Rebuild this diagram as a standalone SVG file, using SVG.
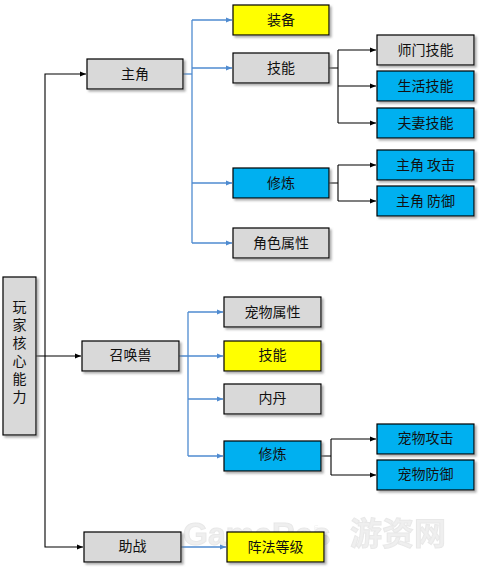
<svg xmlns="http://www.w3.org/2000/svg" width="482" height="567" viewBox="0 0 482 567">
<style>
.n rect{stroke:#000;stroke-width:1.2}
.g{fill:#d9d9d9}.y{fill:#ffff00}.b{fill:#00b0f0}
.n text{font-family:"Noto Sans CJK SC","Noto Sans",sans-serif;font-size:14px;fill:#111;text-anchor:middle;dominant-baseline:central}
.n text.v{writing-mode:vertical-rl;text-anchor:start;letter-spacing:4px;dominant-baseline:central}
.k{fill:none;stroke:#000;stroke-width:1.1}
.bl{fill:none;stroke:#4f8bd0;stroke-width:1.3}
.wm{font-family:"Liberation Sans","Noto Sans CJK SC",sans-serif;font-weight:bold;font-size:32px}
</style>
<defs>
<filter id="sh" x="-10%" y="-10%" width="130%" height="140%">
<feDropShadow dx="2" dy="2" stdDeviation="1" flood-color="#777" flood-opacity="0.6"/>
</filter>
<marker id="ak" viewBox="0 0 6 6" refX="6" refY="3" markerWidth="6" markerHeight="6" markerUnits="userSpaceOnUse" orient="auto"><path d="M0,0.5 L6,3 L0,5.5 z" fill="#000"/></marker>
<marker id="ab" viewBox="0 0 6 6" refX="6" refY="3" markerWidth="6" markerHeight="6" markerUnits="userSpaceOnUse" orient="auto"><path d="M0,0.5 L6,3 L0,5.5 z" fill="#4f8bd0"/></marker>
</defs>
<rect width="482" height="567" fill="#fff"/>
<g id="watermark" opacity="0.9">
<text class="wm" x="183" y="545" fill="#eee" stroke="#e6e6e6" stroke-width="1">GameRes</text>
<text x="318" y="540" font-family="Liberation Sans,sans-serif" font-size="7" fill="#eee" transform="rotate(-90 318 540)">.com</text>
<text class="wm" x="350" y="545" fill="#eee" stroke="#e6e6e6" stroke-width="1" font-family="Noto Sans CJK SC,sans-serif">游资网</text>
</g>
<g id="connectors">
<path class="k" d="M36,356 H81" marker-end="url(#ak)"/>
<path class="k" d="M45,356 V74 H86" marker-end="url(#ak)"/>
<path class="k" d="M45,356 V547 H83" marker-end="url(#ak)"/>
<path class="bl" d="M183,74 H192"/>
<path class="bl" d="M192,20 V243"/>
<path class="bl" d="M192,20 H232" marker-end="url(#ab)"/>
<path class="bl" d="M192,68 H232" marker-end="url(#ab)"/>
<path class="bl" d="M192,183 H232" marker-end="url(#ab)"/>
<path class="bl" d="M192,243 H232" marker-end="url(#ab)"/>
<path class="k" d="M329,68 H338 M338,50 V123"/>
<path class="k" d="M338,50 H376" marker-end="url(#ak)"/>
<path class="k" d="M338,86 H376" marker-end="url(#ak)"/>
<path class="k" d="M338,123 H376" marker-end="url(#ak)"/>
<path class="k" d="M329,183 H338 M338,165 V201"/>
<path class="k" d="M338,165 H376" marker-end="url(#ak)"/>
<path class="k" d="M338,201 H376" marker-end="url(#ak)"/>
<path class="bl" d="M179,356 H188 M188,312 V456"/>
<path class="bl" d="M188,312 H223" marker-end="url(#ab)"/>
<path class="bl" d="M188,356 H223" marker-end="url(#ab)"/>
<path class="bl" d="M188,399 H223" marker-end="url(#ab)"/>
<path class="bl" d="M188,456 H223" marker-end="url(#ab)"/>
<path class="k" d="M321,456 H331 M331,439 V475"/>
<path class="k" d="M331,439 H376" marker-end="url(#ak)"/>
<path class="k" d="M331,475 H376" marker-end="url(#ak)"/>
<path class="bl" d="M181,547 H226" marker-end="url(#ab)"/>
</g>
<g id="root" class="n"><rect class="g" x="3" y="277" width="33" height="158" filter="url(#sh)"/>
<text class="v" x="19.5" y="300">玩家核心能力</text></g>
<g id="zhujiao" class="n"><rect class="g" x="87" y="59" width="96" height="30" filter="url(#sh)"/><text x="135" y="73">主角</text></g>
<g id="zhuangbei" class="n"><rect class="y" x="233" y="5" width="96" height="30" filter="url(#sh)"/><text x="281" y="19">装备</text></g>
<g id="jineng1" class="n"><rect class="g" x="233" y="53" width="96" height="30" filter="url(#sh)"/><text x="281" y="67">技能</text></g>
<g id="xiulian1" class="n"><rect class="b" x="233" y="168" width="96" height="30" filter="url(#sh)"/><text x="281" y="182">修炼</text></g>
<g id="jueseshuxing" class="n"><rect class="g" x="233" y="228" width="96" height="30" filter="url(#sh)"/><text x="281" y="242">角色属性</text></g>
<g id="shimen" class="n"><rect class="g" x="377" y="35" width="97" height="30" filter="url(#sh)"/><text x="425.5" y="49">师门技能</text></g>
<g id="shenghuo" class="n"><rect class="b" x="377" y="71" width="97" height="30" filter="url(#sh)"/><text x="425.5" y="85">生活技能</text></g>
<g id="fuqi" class="n"><rect class="b" x="377" y="108" width="97" height="30" filter="url(#sh)"/><text x="425.5" y="122">夫妻技能</text></g>
<g id="zjgongji" class="n"><rect class="b" x="377" y="150" width="97" height="30" filter="url(#sh)"/><text x="425.5" y="164">主角 攻击</text></g>
<g id="zjfangyu" class="n"><rect class="b" x="377" y="186" width="97" height="30" filter="url(#sh)"/><text x="425.5" y="200">主角 防御</text></g>
<g id="zhaohuanshou" class="n"><rect class="g" x="82" y="341" width="97" height="30" filter="url(#sh)"/><text x="130.5" y="354">召唤兽</text></g>
<g id="cwshuxing" class="n"><rect class="g" x="224" y="297" width="97" height="30" filter="url(#sh)"/><text x="272.5" y="311">宠物属性</text></g>
<g id="jineng2" class="n"><rect class="y" x="224" y="341" width="97" height="30" filter="url(#sh)"/><text x="272.5" y="354">技能</text></g>
<g id="neidan" class="n"><rect class="g" x="224" y="384" width="97" height="30" filter="url(#sh)"/><text x="272.5" y="397">内丹</text></g>
<g id="xiulian2" class="n"><rect class="b" x="224" y="441" width="97" height="30" filter="url(#sh)"/><text x="272.5" y="453">修炼</text></g>
<g id="cwgongji" class="n"><rect class="b" x="377" y="424" width="97" height="30" filter="url(#sh)"/><text x="425.5" y="437">宠物攻击</text></g>
<g id="cwfangyu" class="n"><rect class="b" x="377" y="460" width="97" height="30" filter="url(#sh)"/><text x="425.5" y="473">宠物防御</text></g>
<g id="zhuzhan" class="n"><rect class="g" x="84" y="532" width="97" height="30" filter="url(#sh)"/><text x="132.5" y="545">助战</text></g>
<g id="zhenfa" class="n"><rect class="y" x="227" y="532" width="97" height="30" filter="url(#sh)"/><text x="275.5" y="546">阵法等级</text></g>
</svg>
